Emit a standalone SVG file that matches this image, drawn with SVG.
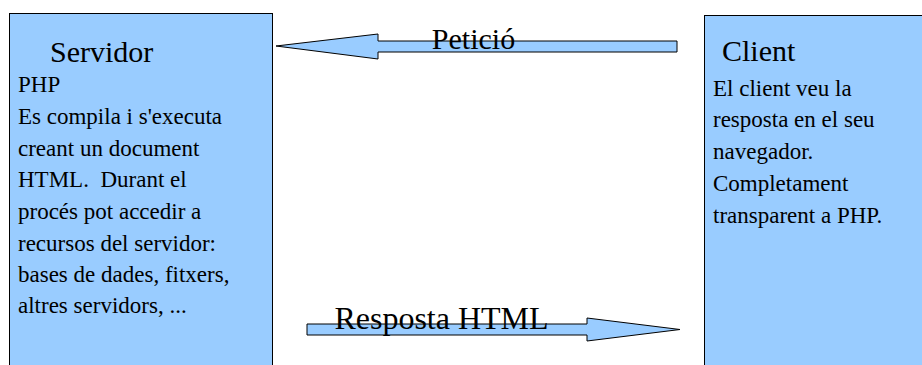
<svg xmlns="http://www.w3.org/2000/svg" width="922" height="365" viewBox="0 0 922 365">
<style>
.box{fill:#99ccff;stroke:#000;stroke-width:1}
.arrow{fill:#99ccff;stroke:#000;stroke-width:1}
.title{font-size:30px}
.body{font-size:23px}
</style>
<rect width="922" height="365" fill="#fff"/>
<g font-family="Liberation Serif, Times New Roman, serif" fill="#000">
<g id="servidor">
<rect class="box" x="9.5" y="13.5" width="263" height="360"/>
<text class="title" x="50" y="62">Servidor</text>
<text class="body" x="18" y="92">PHP</text>
<text class="body" x="18" y="124">Es compila i s'executa</text>
<text class="body" x="18" y="156">creant un document</text>
<text class="body" x="18" y="187" xml:space="preserve">HTML.  Durant el</text>
<text class="body" x="18" y="219">procés pot accedir a</text>
<text class="body" x="18" y="251">recursos del servidor:</text>
<text class="body" x="18" y="282">bases de dades, fitxers,</text>
<text class="body" x="18" y="313">altres servidors, ...</text>
</g>
<g id="client">
<rect class="box" x="704.5" y="15.5" width="230" height="360"/>
<text class="title" x="722" y="61">Client</text>
<text class="body" x="713" y="96">El client veu la</text>
<text class="body" x="713" y="127">resposta en el seu</text>
<text class="body" x="713" y="159">navegador.</text>
<text class="body" x="713" y="191">Completament</text>
<text class="body" x="713" y="223">transparent a PHP.</text>
</g>
<g id="connectors">
<g id="peticio">
<polygon class="arrow" points="677,41 378,41 378,34 276,46 378,59 378,52 677,52"/>
<text x="473.5" y="49" font-size="30" text-anchor="middle">Petició</text>
</g>
<g id="resposta">
<polygon class="arrow" points="307,324 587,324 587,318 680,329.5 587,341 587,335 307,335"/>
<text x="441.5" y="329" font-size="32" text-anchor="middle">Resposta HTML</text>
</g>
</g>
</g>
</svg>
